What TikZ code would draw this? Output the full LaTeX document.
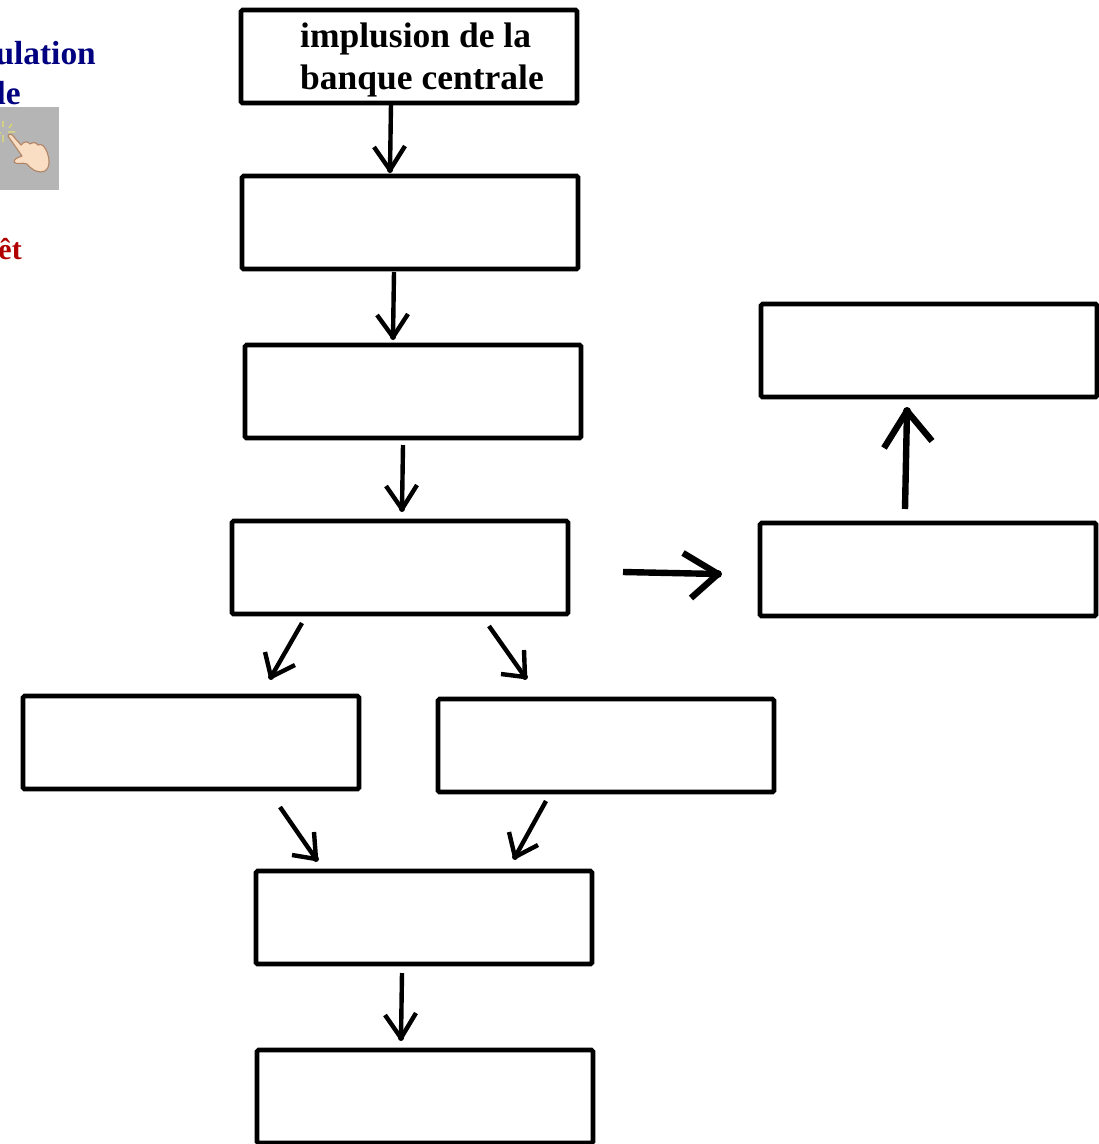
\documentclass[tikz,border=0pt]{standalone}
\usepackage{fontspec}
\setmainfont{Liberation Serif}
\definecolor{navyt}{RGB}{0,0,128}
\definecolor{redt}{RGB}{176,0,0}
\definecolor{handfill}{RGB}{250,222,196}
\definecolor{handline}{RGB}{176,132,100}
\definecolor{sparkt}{RGB}{226,222,110}
\tikzset{
  flowbox/.style={draw=black,line width=4.6pt,rounded corners=1.5pt,minimum width=336pt,minimum height=93pt,inner sep=0pt,outer sep=0pt,anchor=north west,fill=white},
  thin arrow/.style={draw=black,line width=4.4pt,line join=round},
  thick arrow/.style={draw=black,line width=6.4pt,line join=round},
  side/.style={inner sep=0pt,font=\fontsize{33.4}{33.4}\selectfont\bfseries,anchor=base east},
  main text/.style={anchor=base west,inner sep=0pt,font=\fontsize{35.5}{35.5}\selectfont\bfseries}
}
\begin{document}
\begin{tikzpicture}[x=1pt,y=-1pt]
\useasboundingbox (0,0) rectangle (1099,1144);
% side fragments
\node[side,text=navyt] (s1) at (96,64) {ulation};
\node[side,text=navyt] (s2) at (21,104) {le};
\node[side,text=redt,font=\fontsize{30}{30}\selectfont\bfseries] (s3) at (22,259) {êt};
% button with hand
\fill[black!29] (0,107) rectangle (59,190);
\draw[sparkt,line width=1.2pt] (3,121)--(3,127) (12,124)--(9,128) (8,132)--(15,132) (3,135)--(3,142) (-1,133)--(1,133);
\draw[handline,fill=handfill,line width=1.1pt,line join=round]
  (8,136) .. controls (9,133) and (12,134) .. (14,137)
  -- (21,145) .. controls (24,141) and (28,141) .. (30,144)
  .. controls (33,142) and (36,142) .. (38,145)
  .. controls (42,143) and (45,147) .. (47,152)
  .. controls (50,160) and (50,168) .. (45,171)
  .. controls (39,174) and (32,170) .. (27,164)
  .. controls (22,162) and (16,165) .. (14,162)
  .. controls (14,158) and (20,157) .. (22,156) -- cycle;
% boxes
\node[flowbox] (a) at (241,10) {};
\node[flowbox] (b) at (242,176) {};
\node[flowbox] (c) at (245,345) {};
\node[flowbox] (d) at (232,521) {};
\node[flowbox] (e) at (761,304) {};
\node[flowbox] (f) at (760,523) {};
\node[flowbox] (g) at (23,696) {};
\node[flowbox] (h) at (438,699) {};
\node[flowbox] (i) at (256,871) {};
\node[flowbox] (j) at (257,1050) {};
\node[main text] (t1) at (300,47) {implusion de la};
\node[main text] (t2) at (300,89) {banque centrale};
% arrows
\coordinate (ab1) at (391,104); \coordinate (ab2) at (390,170);
\coordinate (bc1) at (394,272); \coordinate (bc2) at (393,337);
\coordinate (cd1) at (403,445); \coordinate (cd2) at (402,509);
\coordinate (df1) at (623,572); \coordinate (df2) at (718,574);
\coordinate (fe1) at (905,509); \coordinate (fe2) at (907,411);
\coordinate (dg1) at (302,623); \coordinate (dg2) at (271,677);
\coordinate (dh1) at (489,626); \coordinate (dh2) at (525,677);
\coordinate (gi1) at (280,807); \coordinate (gi2) at (316,859);
\coordinate (hi1) at (546,801); \coordinate (hi2) at (515,857);
\coordinate (ij1) at (402,973); \coordinate (ij2) at (401,1038);
\foreach \s/\e in {ab1/ab2,bc1/bc2,cd1/cd2,dg1/dg2,dh1/dh2,gi1/gi2,hi1/hi2,ij1/ij2}
  {\draw[thin arrow] (\s) -- (\e); \fill (\e) circle (3pt);}
\foreach \s/\e in {df1/df2,fe1/fe2}
  {\draw[thick arrow] (\s) -- (\e); \fill (\e) circle (4pt);}
\draw[thin arrow] (374,147) -- (ab2) -- (405,146);
\draw[thin arrow] (377,315) -- (bc2) -- (408,314);
\draw[thin arrow] (386,486) -- (cd2) -- (417,485);
\draw[thick arrow] (683,553) -- (df2) -- (691,598);
\draw[thick arrow] (884,448) -- (fe2) -- (932,441);
\draw[thin arrow] (265,652) -- (dg2) -- (295,665);
\draw[thin arrow] (524,650) -- (dh2) -- (501,674);
\draw[thin arrow] (314,832) -- (gi2) -- (292,855);
\draw[thin arrow] (509,832) -- (hi2) -- (538,845);
\draw[thin arrow] (385,1015) -- (ij2) -- (416,1013);
\end{tikzpicture}
\end{document}
